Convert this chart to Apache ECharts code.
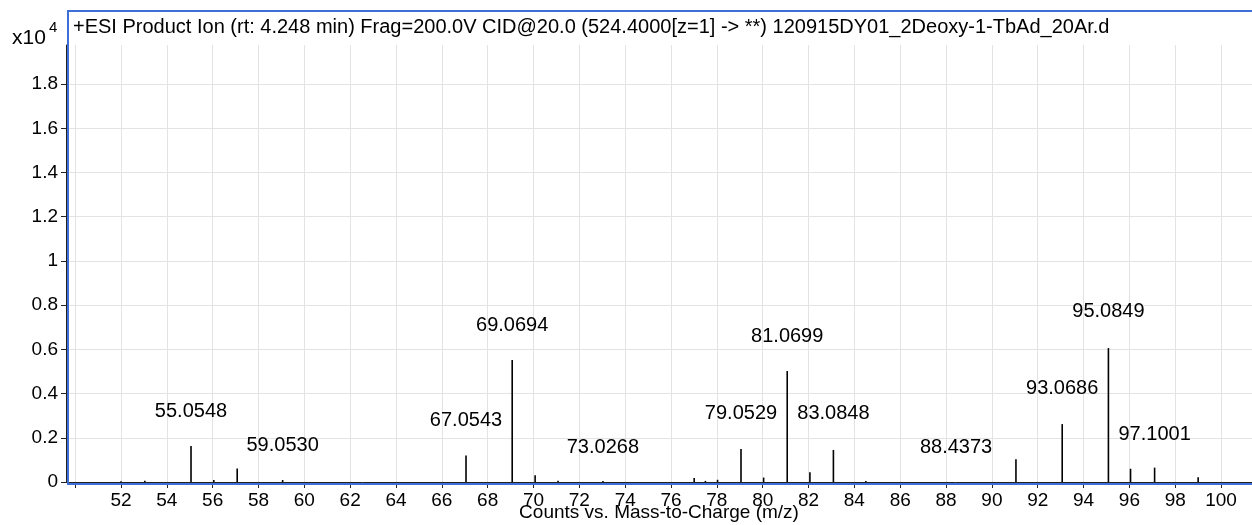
<!DOCTYPE html>
<html>
<head>
<meta charset="utf-8">
<script src="https://cdn.jsdelivr.net/npm/echarts@6/dist/echarts.min.js"></script>
<style>
  html, body { margin: 0; padding: 0; background: #fff; }
  #chart { width: 1252px; height: 525px; }
</style>
</head>
<body>
<div id="chart"></div>
<script>
// peaks: m/z and intensity (x10^4 counts)
var peakMz = [52.0, 53.04, 55.0548, 56.05, 57.07, 59.053, 70.07, 71.07, 67.0543, 69.0694, 73.03,
  77.01, 77.5, 78.03, 79.0529, 80.04, 81.0699, 82.06, 83.0848, 84.5,
  91.05, 93.0686, 95.0849, 96.05, 97.1001, 99.0]
var peakVal = [0.003, 0.006, 0.163, 0.009, 0.061, 0.009, 0.031, 0.006, 0.12, 0.552, 0.004,
  0.018, 0.005, 0.01, 0.149, 0.02, 0.502, 0.044, 0.145, 0.004,
  0.103, 0.262, 0.606, 0.06, 0.065, 0.021]

// annotated m/z labels and the height they are written at
var labelMz = [55.0548, 59.0530, 67.0543, 69.0694, 73.0268, 79.0529, 81.0699, 83.0848, 88.4373, 93.0686, 95.0849, 97.1001]
var labelY = [0.317, 0.167, 0.28, 0.706, 0.158, 0.312, 0.66, 0.312, 0.158, 0.425, 0.77, 0.213]

var xTicks = [50, 52, 54, 56, 58, 60, 62, 64, 66, 68, 70, 72, 74, 76, 78, 80, 82, 84, 86, 88, 90, 92, 94, 96, 98, 100]
var xLabels = [52, 54, 56, 58, 60, 62, 64, 66, 68, 70, 72, 74, 76, 78, 80, 82, 84, 86, 88, 90, 92, 94, 96, 98, 100]
var yTicks = [0, 0.2, 0.4, 0.6, 0.8, 1, 1.2, 1.4, 1.6, 1.8]

var titleText = '+ESI Product Ion (rt: 4.248 min) Frag=200.0V CID@20.0 (524.4000[z=1] -> **) 120915DY01_2Deoxy-1-TbAd_20Ar.d'

var chart = echarts.init(document.getElementById('chart'))
var font = 'Liberation Sans, Arial, sans-serif'

var option = {
  animation: false,
  grid: { left: 66, right: 0, top: 45, bottom: 43, outerBoundsMode: 'none', containLabel: false },
  xAxis: {
    type: 'value',
    min: 49.6,
    max: 101.35,
    name: 'Counts vs. Mass-to-Charge (m/z)',
    nameLocation: 'middle',
    nameGap: 21,
    nameMoveOverlap: false,
    nameTextStyle: { color: '#000', fontSize: 19, fontFamily: font },
    axisLine: { show: true, lineStyle: { color: '#222', width: 1 } },
    axisTick: { show: true, length: 6, customValues: xTicks, lineStyle: { color: '#222' } },
    axisLabel: { customValues: xLabels, color: '#000', fontSize: 19, fontFamily: font, margin: 9 },
    splitLine: { show: true, lineStyle: { color: '#e3e3e3', width: 1 } }
  },
  yAxis: {
    type: 'value',
    min: 0,
    max: 1.977,
    axisLine: { show: true, lineStyle: { color: '#222', width: 1 } },
    axisTick: { show: true, length: 5, customValues: yTicks, lineStyle: { color: '#222' } },
    axisLabel: { customValues: yTicks, color: '#000', fontSize: 19, fontFamily: font, margin: 8 },
    splitLine: { show: true, lineStyle: { color: '#e3e3e3', width: 1 } }
  },
  graphic: [
    {
      type: 'rect', silent: true, z: 10,
      shape: { x: 68, y: 11, width: 1190, height: 473 },
      style: { fill: null, stroke: '#3d6fd6', lineWidth: 2 }
    },
    {
      type: 'text', left: 73, top: 17, z: 11,
      style: { text: titleText, fill: '#000', font: '20px ' + font }
    },
    {
      type: 'text', left: 12, top: 28, z: 11,
      style: { text: 'x10', fill: '#000', font: '21px ' + font }
    },
    {
      type: 'text', left: 49, top: 20, z: 11,
      style: { text: '4', fill: '#000', font: '15px ' + font }
    }
  ],
  series: [
    {
      type: 'bar',
      barWidth: 1.6,
      itemStyle: { color: '#000' },
      data: peakMz.map(function (m, i) { return [m, peakVal[i]] })
    },
    {
      type: 'scatter',
      symbolSize: 0,
      itemStyle: { opacity: 1 },
      label: {
        show: true,
        position: 'inside',
        color: '#000',
        opacity: 1,
        fontSize: 20,
        fontFamily: font,
        formatter: function (p) { return p.value[0].toFixed(4) }
      },
      data: labelMz.map(function (m, i) { return [m, labelY[i]] })
    }
  ]
}
chart.setOption(option)
</script>
</body>
</html>
